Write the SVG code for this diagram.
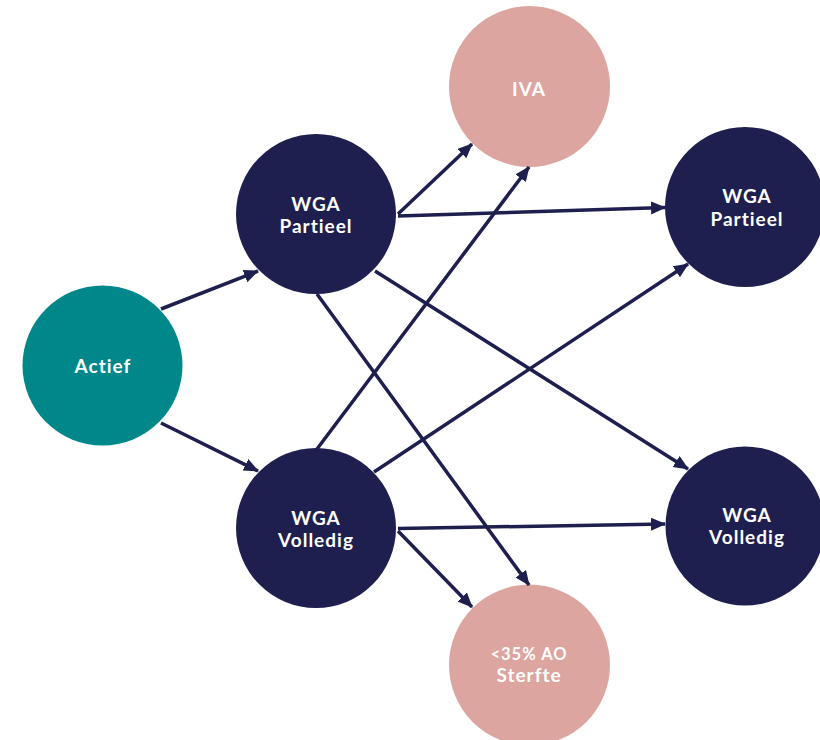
<svg xmlns="http://www.w3.org/2000/svg" width="820" height="740" viewBox="0 0 820 740">
<style>
.navy{fill:#1e1f4e}
.teal{fill:#00878a}
.pink{fill:#dca59f}
text{font-family:Lato,"Open Sans","Liberation Sans",sans-serif;font-weight:700;fill:#ffffff;text-anchor:middle;font-size:19px;letter-spacing:1px}
.small{font-size:16.5px}
.conn line{stroke:#1e1f4e;stroke-width:3.5;fill:none;marker-end:url(#ah)}
</style>
<defs>
<marker id="ah" markerUnits="userSpaceOnUse" markerWidth="16" markerHeight="14" refX="14" refY="6.5" orient="auto">
<path d="M0,0 L15,6.5 L0,13 z" fill="#1e1f4e"/>
</marker>
</defs>
<rect width="820" height="740" fill="#ffffff"/>
<g id="actief"><circle class="teal" cx="102.5" cy="365.5" r="80"/><text x="103" y="373">Actief</text></g>
<g id="wga-partieel-1"><circle class="navy" cx="316" cy="214" r="80"/><text x="316" y="211">WGA</text><text x="316" y="233">Partieel</text></g>
<g id="wga-volledig-1"><circle class="navy" cx="316" cy="528" r="80"/><text x="316" y="525">WGA</text><text x="316" y="547">Volledig</text></g>
<g id="iva"><circle class="pink" cx="529.5" cy="86.5" r="80.5"/><text x="529" y="96">IVA</text></g>
<g id="sterfte"><circle class="pink" cx="529.5" cy="665" r="80.5"/><text class="small" x="529" y="660">&lt;35% AO</text><text x="529" y="682">Sterfte</text></g>
<g id="wga-partieel-2"><circle class="navy" cx="745" cy="207" r="80"/><text x="747" y="203">WGA</text><text x="747" y="226">Partieel</text></g>
<g id="wga-volledig-2"><circle class="navy" cx="745" cy="526" r="79.5"/><text x="747" y="522">WGA</text><text x="747" y="544">Volledig</text></g>
<g class="conn" id="connectors">
<line x1="161" y1="309" x2="258" y2="271"/>
<line x1="161" y1="423" x2="258" y2="471"/>
<line x1="398" y1="214" x2="472" y2="144"/>
<line x1="398" y1="216" x2="665" y2="207.5"/>
<line x1="375" y1="271" x2="688" y2="469"/>
<line x1="317" y1="294" x2="529" y2="585"/>
<line x1="317" y1="449" x2="529" y2="167"/>
<line x1="374" y1="472" x2="688" y2="264"/>
<line x1="398" y1="528.5" x2="665" y2="524"/>
<line x1="398" y1="531" x2="472" y2="607"/>
</g>
</svg>
